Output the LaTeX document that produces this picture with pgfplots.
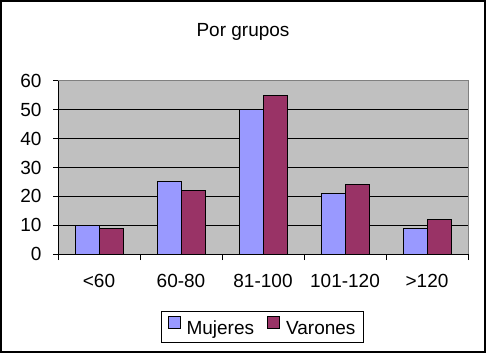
\documentclass[border=0pt]{standalone}
\usepackage{fontspec}
\setmainfont{Liberation Sans}
\usepackage{pgfplots}
\pgfplotsset{compat=1.18}
\definecolor{muj}{HTML}{9999FF}
\definecolor{var}{HTML}{993366}
\definecolor{bg}{HTML}{C0C0C0}
\definecolor{bd}{HTML}{808080}
\newcommand{\cf}{\fontsize{19}{23}\selectfont}
\begin{document}
\begin{tikzpicture}
\useasboundingbox (0pt,0pt) rectangle (486pt,353pt);
\fill[white] (0pt,0pt) rectangle (486pt,353pt);
\draw[line width=2pt] (1pt,1pt) rectangle (485pt,352pt);
\node[font=\cf, anchor=base] at (243pt,316.3pt) {Por grupos};
\begin{axis}[
  at={(58pt,99pt)}, anchor=south west,
  scale only axis, width=410pt, height=173pt,
  ybar=0pt, bar width=24pt,
  xmin=-0.5, xmax=4.5, ymin=0, ymax=60,
  axis x line*=bottom, axis y line*=left,
  axis line style={black, line width=1pt, -},
  axis background/.style={fill=bg, draw=bd, line width=1pt},
  xtick={0,1,2,3,4},
  xticklabels={{<60},{60-80},{81-100},{101-120},{>120}},
  major x tick style={draw=none},
  minor xtick={-0.5,0.5,1.5,2.5,3.5,4.5},
  minor x tick style={black, line width=1pt},
  minor tick length=6pt,
  ytick={0,10,20,30,40,50},
  extra y ticks={60},
  extra y tick style={grid=none},
  ymajorgrids,
  grid style={black, line width=1pt},
  y tick style={black, line width=1pt},
  tick align=outside,
  major tick length=5pt,
  /pgf/number format/assume math mode=true,
  tick label style={font=\cf},
  yticklabel style={xshift=-8pt},
  xticklabel style={yshift=-12pt},
  legend style={at={(0.4988,-0.422)}, anchor=center, draw=black, line width=1pt, fill=white, font=\cf,
    legend columns=2,
    /tikz/every odd column/.append style={column sep=4pt},
    /tikz/every even column/.append style={column sep=11pt},
    inner xsep=6pt, inner ysep=4pt},
  legend image code/.code={\draw[#1, line width=1pt] (0pt,0pt) rectangle (12pt,12pt);},
]
\addplot[fill=muj, draw=black, line width=1pt] coordinates {(0,10) (1,25) (2,50) (3,21) (4,9)};
\addplot[fill=var, draw=black, line width=1pt] coordinates {(0,9) (1,22) (2,55) (3,24) (4,12)};
\legend{Mujeres,Varones}
\end{axis}
\end{tikzpicture}
\end{document}
